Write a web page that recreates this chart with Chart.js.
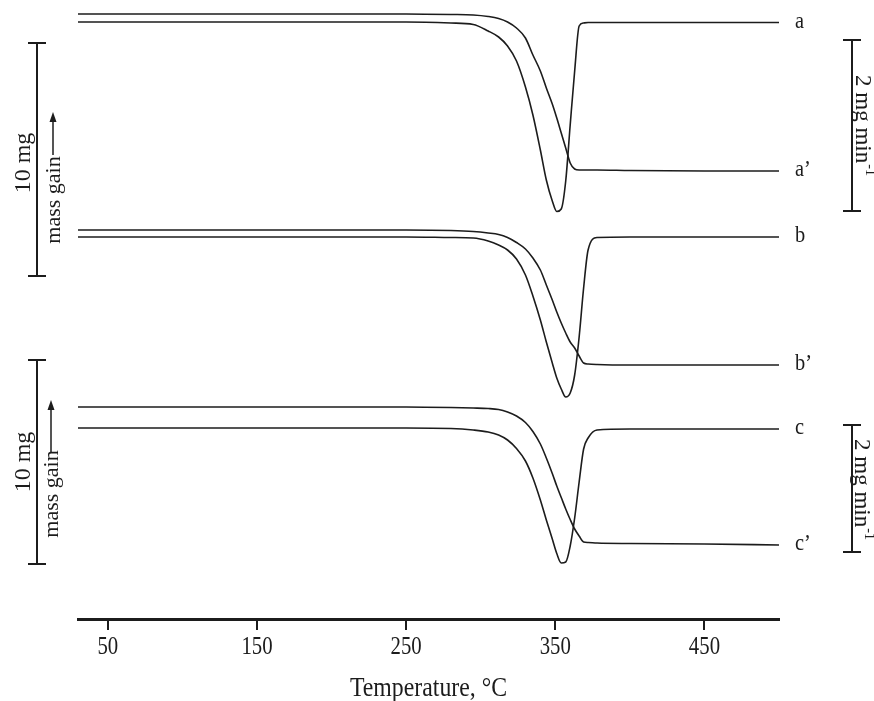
<!DOCTYPE html>
<html>
<head>
<meta charset="utf-8">
<script src="https://cdn.jsdelivr.net/npm/chart.js@4.4.0/dist/chart.umd.min.js"></script>
<style>
  html, body { margin: 0; padding: 0; background: #fff; }
  #wrap { width: 874px; height: 701px; }
</style>
</head>
<body>
<div id="wrap"><canvas id="tgChart" width="874" height="701"></canvas></div>
<script>
// temperature grid (°C), shared by every curve
const temperatures = [30, 250, 280, 295, 305, 312, 318, 324, 330, 335, 340, 344, 348, 351, 354, 357, 360, 363, 366, 369, 372, 378, 400, 450, 500];

// curve depth below the top of the plot (arbitrary units, stacked offsets)
const tgA  = [14, 14, 14.5, 15, 16.5, 18.5, 22, 28, 38, 55, 71, 88, 104, 118, 133, 148, 163, 169, 170, 170, 170, 170, 170.5, 171, 171];
const dtgA = [22, 22, 23, 24.5, 31, 37, 46, 61, 87, 115, 150, 180, 201, 211.5, 209, 181, 125, 71, 26, 23, 22.5, 22.5, 22.5, 22.5, 22.5];
const tgB  = [230, 230, 230.5, 231.5, 233, 234.5, 237.5, 242.5, 249, 258, 270, 285, 300, 312, 323, 333, 342, 348, 356, 363, 364, 364.5, 365, 365, 365];
const dtgB = [237, 237, 237.5, 238, 241, 245, 250, 259, 275, 296, 320, 342, 363, 378, 389, 397, 393, 375, 337, 288, 250, 237.5, 237, 237, 237];
const tgC  = [407, 407, 407.5, 408, 408.5, 409.5, 412, 416, 422.5, 431.5, 444, 458, 473.5, 486, 497.5, 509, 519.5, 529, 536, 542, 542.5, 543, 543.5, 544, 545];
const dtgC = [428, 428, 428.5, 430, 432, 435, 440, 448.5, 461, 478, 500, 520, 539, 553.5, 563, 562, 546, 518, 482, 449, 438, 430, 429, 429, 429];

const seriesList = [dtgA, tgA, dtgB, tgB, dtgC, tgC];
const curveLabels = ['a', 'a’', 'b', 'b’', 'c', 'c’'];
const tickValues = [50, 150, 250, 350, 450];
const axisTitle = 'Temperature, °C';

const SERIF = '"Liberation Serif", "Times New Roman", serif';
const INK = '#1c1c1c';

function drawText(ctx, text, x, y, size, rot, sx, align) {
    ctx.save();
    ctx.translate(x, y);
    ctx.rotate(rot || 0);
    ctx.scale(sx || 1, 1);
    ctx.font = size + 'px ' + SERIF;
    ctx.fillStyle = INK;
    ctx.textAlign = align || 'center';
    ctx.textBaseline = 'middle';
    ctx.fillText(text, 0, 0);
    ctx.restore();
}

function scaleBar(ctx, x, y1, y2) {
    ctx.save();
    ctx.strokeStyle = INK;
    ctx.lineWidth = 2;
    ctx.beginPath();
    ctx.moveTo(x, y1); ctx.lineTo(x, y2);
    ctx.moveTo(x - 9, y1); ctx.lineTo(x + 9, y1);
    ctx.moveTo(x - 9, y2); ctx.lineTo(x + 9, y2);
    ctx.stroke();
    ctx.restore();
}

// "2 mg min-1", read top to bottom
function rateText(ctx, cx, cy, size) {
    ctx.save();
    ctx.translate(cx, cy);
    ctx.rotate(Math.PI / 2);
    ctx.font = size + 'px ' + SERIF;
    const main = '2 mg min';
    const wMain = ctx.measureText(main).width;
    ctx.font = Math.round(size * 0.6) + 'px ' + SERIF;
    const wSup = ctx.measureText('-1').width;
    const x0 = -(wMain + wSup) / 2;
    ctx.fillStyle = INK;
    ctx.textAlign = 'left';
    ctx.textBaseline = 'middle';
    ctx.font = size + 'px ' + SERIF;
    ctx.fillText(main, x0, 0);
    ctx.font = Math.round(size * 0.6) + 'px ' + SERIF;
    ctx.fillText('-1', x0 + wMain + 1, -size * 0.32);
    ctx.restore();
}

// "mass gain" with an arrow pointing up
function massGain(ctx, x, yText, yArrowBottom, yArrowTop, size) {
    drawText(ctx, 'mass gain', x, yText, size, -Math.PI / 2);
    ctx.save();
    ctx.strokeStyle = INK;
    ctx.fillStyle = INK;
    ctx.lineWidth = 1.5;
    ctx.beginPath();
    ctx.moveTo(x - 1, yArrowBottom); ctx.lineTo(x - 1, yArrowTop + 6);
    ctx.stroke();
    ctx.beginPath();
    ctx.moveTo(x - 1, yArrowTop);
    ctx.lineTo(x - 4.5, yArrowTop + 10);
    ctx.lineTo(x + 2.5, yArrowTop + 10);
    ctx.closePath();
    ctx.fill();
    ctx.restore();
}

const decorations = {
    id: 'decorations',
    afterDraw(chart) {
        const ctx = chart.ctx;
        const xs = chart.scales.x;
        const ys = chart.scales.y;
        const area = chart.chartArea;

        // tick labels and axis title
        tickValues.forEach(v => {
            drawText(ctx, String(v), xs.getPixelForValue(v), area.bottom + 28, 26, 0, 0.8);
        });
        drawText(ctx, axisTitle, (area.left + area.right) / 2, area.bottom + 70, 28, 0, 0.85);

        // curve labels at the right end of every curve
        seriesList.forEach((s, i) => {
            const y = ys.getPixelForValue(s[s.length - 1]);
            drawText(ctx, curveLabels[i], area.right + 16, y - 1, 24, 0, 0.85, 'left');
        });

        // mass scale bars (left)
        scaleBar(ctx, 37, ys.getPixelForValue(43), ys.getPixelForValue(276));
        scaleBar(ctx, 37, ys.getPixelForValue(360), ys.getPixelForValue(564));
        drawText(ctx, '10 mg', 24, ys.getPixelForValue(163), 24, -Math.PI / 2);
        drawText(ctx, '10 mg', 24, ys.getPixelForValue(462), 24, -Math.PI / 2);
        massGain(ctx, 54, ys.getPixelForValue(200), ys.getPixelForValue(155), ys.getPixelForValue(112), 22);
        massGain(ctx, 52, ys.getPixelForValue(494), ys.getPixelForValue(452), ys.getPixelForValue(400), 22);

        // rate scale bars (right)
        scaleBar(ctx, 852, ys.getPixelForValue(40), ys.getPixelForValue(211));
        scaleBar(ctx, 852, ys.getPixelForValue(425), ys.getPixelForValue(552));
        rateText(ctx, 862, ys.getPixelForValue(125), 23);
        rateText(ctx, 861, ys.getPixelForValue(489), 23);
    }
};

function buildDatasets() {
    return seriesList.map((s, i) => ({
        label: curveLabels[i],
        data: temperatures.map((t, k) => ({ x: t, y: s[k] })),
        borderColor: INK,
        borderWidth: 1.6,
        pointRadius: 0,
        fill: false,
        cubicInterpolationMode: 'monotone'
    }));
}

new Chart(document.getElementById('tgChart').getContext('2d'), {
    type: 'line',
    data: { datasets: buildDatasets() },
    options: {
        responsive: false,
        animation: false,
        devicePixelRatio: 1,
        layout: { padding: { left: 78, right: 95, top: 0, bottom: 71 } },
        plugins: { legend: { display: false }, tooltip: { enabled: false } },
        scales: {
            x: {
                type: 'linear',
                min: 30,
                max: 500,
                afterBuildTicks: scale => { scale.ticks = tickValues.map(v => ({ value: v })); },
                ticks: { display: false },
                grid: { drawOnChartArea: false, drawTicks: true, tickLength: 11, color: INK, lineWidth: 2 },
                border: { display: true, width: 3, color: INK }
            },
            y: {
                display: false,
                reverse: true,
                min: 0,
                max: 619
            }
        }
    },
    plugins: [decorations]
});
</script>
</body>
</html>
